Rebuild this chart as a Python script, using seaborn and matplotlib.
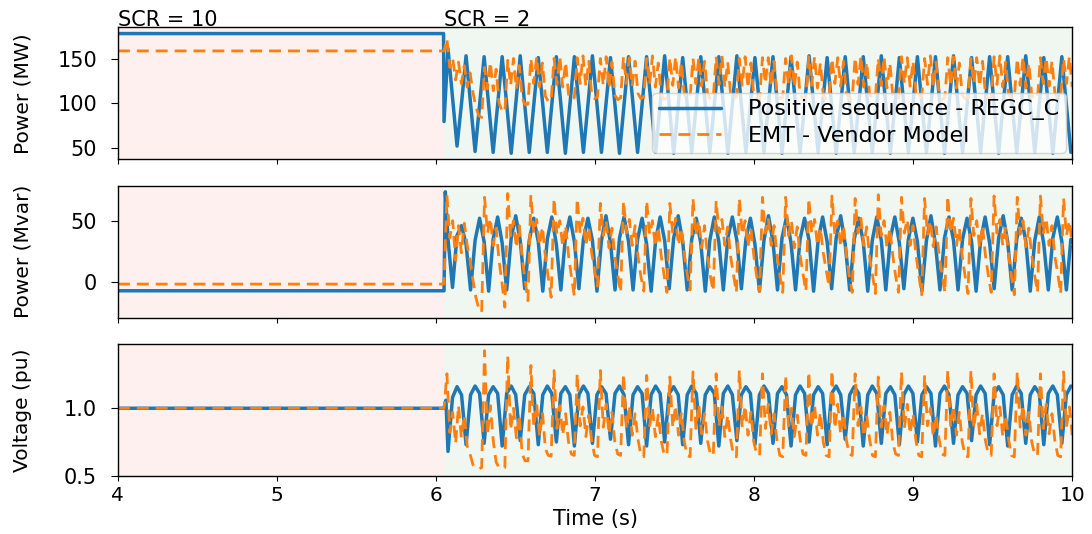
import numpy as np
import pandas as pd
import matplotlib
matplotlib.use("Agg")
import matplotlib.pyplot as plt
import matplotlib.transforms as mtransforms
import seaborn as sns

# ------------------------------------------------------------------ data
x_ticks = [4, 5, 6, 7, 8, 9, 10]
t_switch = 6.05
scr_labels = ["SCR = 10", "SCR = 2"]
series_names = ["Positive sequence - REGC_C", "EMT - Vendor Model"]
y_labels = ["Power (MW)", "Power (Mvar)", "Voltage (pu)"]
y_ticks = [[50, 100, 150], [0, 50], [0.5, 1.0]]
y_limits = [(37.2, 185.0), (-28.6, 78.3), (0.495, 1.475)]

# Positive sequence model: pre-switch segments
blue_pre_t_P = [4.0, 6.047, 6.05]
blue_pre_P = [177.9, 177.9, 79.5]
blue_pre_t_Q = [4.0, 6.05, 6.058]
blue_pre_Q = [-6.7, -6.7, 73.4]
blue_pre_t_V = [4.0, 6.05, 6.062]
blue_pre_V = [1.0, 1.0, 1.06]

# Positive sequence model after the switch, sampled every quarter cycle
blue_t0 = 6.075
blue_dt = 0.028375
# rows: [peak, falling, trough, rising]
blue_P_rows = [
    [161, 106, 52, 100], [153, 99, 46, 98], [152, 98, 45, 99], [152, 99, 44, 98],
    [153, 98, 45, 98], [151, 98, 45, 99], [152, 99, 44, 98], [152, 98, 45, 98],
    [153, 99, 45, 99], [151, 98, 44, 98], [152, 98, 45, 98], [152, 99, 45, 99],
    [153, 98, 44, 98], [151, 98, 45, 98], [152, 99, 45, 99], [152, 98, 44, 98],
    [153, 98, 45, 98], [151, 99, 45, 99], [152, 98, 44, 98], [152, 98, 45, 98],
    [153, 99, 45, 99], [151, 98, 44, 98], [152, 98, 45, 98], [152, 99, 45, 99],
    [153, 98, 44, 98], [151, 98, 45, 98], [152, 99, 45, 99], [152, 98, 44, 98],
    [153, 98, 45, 98], [151, 99, 45, 99], [152, 98, 44, 98], [152, 98, 45, 98],
    [153, 99, 45, 99], [151, 98, 44, 98], [152, 98, 45],
]
# rows: [shoulder, trough, rising, peak]
blue_Q_rows = [
    [35, -4, 38, 46], [31, -6, 34, 52], [33, -7, 35, 53], [32, -6, 36, 54],
    [34, -5, 34, 52], [33, -7, 35, 53], [31, -6, 36, 53], [33, -5, 35, 52],
    [34, -7, 34, 54], [32, -6, 36, 53], [33, -6, 35, 52], [31, -7, 34, 53],
    [34, -5, 36, 54], [33, -6, 35, 52], [32, -7, 34, 53], [33, -6, 36, 53],
    [34, -5, 35, 52], [31, -7, 34, 54], [33, -6, 36, 53], [32, -6, 35, 52],
    [34, -7, 34, 53], [33, -5, 36, 54], [31, -6, 35, 52], [33, -7, 34, 53],
    [34, -6, 36, 53], [32, -5, 35, 52], [33, -7, 34, 54], [31, -6, 36, 53],
    [34, -6, 35, 52], [33, -7, 34, 53], [32, -5, 36, 54], [33, -6, 35, 52],
    [34, -7, 34, 53], [31, -6, 36, 53], [33, -6, 35],
]
# rows: [trough, rising, peak, falling]
blue_V_rows = [
    [0.68, 1.08, 1.16, 1.10], [0.73, 1.10, 1.165, 1.11], [0.74, 1.10, 1.16, 1.11],
    [0.72, 1.11, 1.165, 1.10], [0.76, 1.10, 1.16, 1.11], [0.73, 1.10, 1.165, 1.11],
    [0.75, 1.11, 1.16, 1.10], [0.72, 1.10, 1.165, 1.11], [0.74, 1.10, 1.16, 1.11],
    [0.77, 1.11, 1.165, 1.10], [0.73, 1.10, 1.16, 1.11], [0.72, 1.10, 1.165, 1.11],
    [0.75, 1.11, 1.16, 1.10], [0.73, 1.10, 1.165, 1.11], [0.74, 1.10, 1.16, 1.11],
    [0.72, 1.11, 1.165, 1.10], [0.76, 1.10, 1.16, 1.11], [0.73, 1.10, 1.165, 1.11],
    [0.74, 1.11, 1.16, 1.10], [0.72, 1.10, 1.165, 1.11], [0.75, 1.10, 1.16, 1.11],
    [0.73, 1.11, 1.165, 1.10], [0.77, 1.10, 1.16, 1.11], [0.72, 1.10, 1.165, 1.11],
    [0.74, 1.11, 1.16, 1.10], [0.73, 1.10, 1.165, 1.11], [0.75, 1.10, 1.16, 1.11],
    [0.72, 1.11, 1.165, 1.10], [0.74, 1.10, 1.16, 1.11], [0.76, 1.10, 1.165, 1.11],
    [0.73, 1.11, 1.16, 1.10], [0.72, 1.10, 1.165, 1.11], [0.74, 1.10, 1.16, 1.11],
    [0.73, 1.11, 1.165, 1.10], [0.74, 1.10, 1.165],
]

# EMT vendor model
orange_pre_t = [4.0]
orange_pre_P = [158.5]
orange_pre_Q = [-1.3]
orange_pre_V = [1.0]
orange_t0 = 6.05
orange_dt = 0.0182
# first transient samples (6.05 s .. 6.29 s)
orange_P_start = [158.5, 172, 140, 150, 126, 146, 122, 142, 118, 134, 112, 96, 86, 84]
orange_Q_start = [-1.3, 70.8, 36, 50, 18, 46, 24, 48, 30, 18, 2, -12, -21, -24]
orange_V_start = [1.0, 1.256, 0.82, 0.97, 0.74, 1.02, 0.78, 0.95, 0.72, 0.66, 0.58, 0.56, 0.55, 0.56]
# one row per oscillation cycle, starting at each voltage spike
orange_P_rows = [
    [140, 116, 146, 114, 138, 100, 92, 90], [148, 120, 150, 116, 142, 106, 98, 99],
    [150, 122, 152, 118, 145, 108, 102, 103], [150, 121, 152, 118, 146, 110, 104, 106],
    [151, 122, 153, 119, 147, 110, 105, 107], [150, 120, 152, 117, 146, 109, 104, 106],
    [152, 122, 151, 119, 147, 111, 105, 107], [150, 121, 153, 118, 145, 110, 104, 106],
    [151, 120, 152, 117, 146, 109, 105, 107], [150, 122, 151, 119, 147, 111, 104, 106],
    [152, 121, 153, 118, 146, 110, 105, 107], [150, 120, 152, 117, 145, 109, 104, 106],
    [151, 122, 151, 119, 147, 111, 105, 107], [150, 121, 153, 118, 146, 110, 104, 106],
    [152, 120, 152, 117, 145, 109, 105, 107], [150, 122, 151, 119, 147, 111, 104, 106],
    [151, 121, 153, 118, 146, 110, 105, 107], [150, 120, 152, 117, 145, 109, 104, 106],
    [152, 122, 151, 119, 147, 111, 105, 107], [150, 121, 153, 118, 146, 110, 104, 106],
    [151, 120, 152, 117, 145, 109, 105, 107], [150, 122, 151, 119, 147, 111, 104, 106],
    [152, 121, 153, 118, 146, 110, 105, 107], [150, 120, 152, 117, 145, 109, 104, 106],
    [151, 122, 151, 119, 147, 111, 105, 107], [150, 122, 152, 118],
]
orange_Q_rows = [
    [69, 40, 52, 30, 44, 18, 0, -20], [72, 38, 50, 28, 46, 20, 2, -14.7],
    [70.8, 40, 51, 30, 45, 21, 4, -12], [68, 39, 50, 29, 46, 22, 5, -10.8],
    [68, 40, 52, 30, 45, 24, 10, -3], [64, 38, 50, 28, 44, 22, 6, -8],
    [66, 40, 51, 30, 46, 21, 5, -7], [66, 39, 50, 29, 45, 22, 6, -8],
    [64, 40, 52, 30, 44, 23, 7, -6], [68, 38, 50, 28, 46, 22, 5, -7],
    [66, 40, 51, 30, 45, 21, 6, -8], [68, 39, 50, 29, 44, 22, 5, -7],
    [69, 40, 52, 30, 46, 23, 6, -8], [69, 38, 50, 28, 45, 22, 7, -7],
    [68, 40, 51, 30, 44, 24, 10, -3], [70, 39, 50, 29, 46, 22, 5, -8],
    [68, 40, 52, 30, 45, 21, 6, -9], [71, 38, 50, 28, 44, 22, 5, -8],
    [69, 40, 51, 30, 46, 23, 6, -10], [68, 39, 50, 29, 45, 22, 7, -8],
    [70, 40, 52, 30, 44, 21, 5, -9], [68, 38, 50, 28, 46, 22, 6, -8],
    [70, 40, 51, 30, 45, 23, 5, -10], [69, 39, 50, 29, 44, 22, 6, -8],
    [70, 40, 52, 30, 46, 21, 7, -9], [68, 38, 50, 30],
]
orange_V_rows = [
    [1.427, 0.80, 1.02, 0.76, 0.60, 0.56, 0.555, 0.56],
    [1.39, 0.84, 1.00, 0.78, 0.95, 0.66, 0.61, 0.61],
    [1.317, 0.86, 1.03, 0.79, 0.97, 0.70, 0.65, 0.645],
    [1.28, 0.85, 1.02, 0.80, 0.96, 0.75, 0.66, 0.65],
    [1.256, 0.87, 1.01, 0.79, 0.95, 0.76, 0.65, 0.64],
    [1.28, 0.86, 1.03, 0.81, 0.97, 0.75, 0.66, 0.65],
    [1.256, 0.85, 1.02, 0.80, 0.96, 0.77, 0.65, 0.64],
    [1.244, 0.87, 1.00, 0.79, 0.95, 0.76, 0.66, 0.65],
    [1.232, 0.86, 1.02, 0.80, 0.97, 0.75, 0.65, 0.64],
    [1.27, 0.85, 1.03, 0.81, 0.96, 0.76, 0.66, 0.65],
    [1.256, 0.87, 1.01, 0.79, 0.95, 0.77, 0.65, 0.64],
    [1.28, 0.86, 1.02, 0.80, 0.97, 0.75, 0.66, 0.65],
    [1.256, 0.85, 1.03, 0.81, 0.96, 0.76, 0.65, 0.64],
    [1.244, 0.87, 1.00, 0.79, 0.95, 0.77, 0.66, 0.65],
    [1.27, 0.86, 1.02, 0.80, 0.97, 0.75, 0.65, 0.64],
    [1.28, 0.85, 1.03, 0.81, 0.96, 0.76, 0.66, 0.65],
    [1.256, 0.87, 1.01, 0.79, 0.95, 0.77, 0.65, 0.64],
    [1.232, 0.86, 1.02, 0.80, 0.97, 0.75, 0.66, 0.65],
    [1.27, 0.85, 1.03, 0.81, 0.96, 0.76, 0.65, 0.64],
    [1.244, 0.87, 1.00, 0.79, 0.95, 0.77, 0.66, 0.65],
    [1.28, 0.86, 1.02, 0.80, 0.97, 0.75, 0.65, 0.64],
    [1.28, 0.85, 1.03, 0.81, 0.96, 0.76, 0.66, 0.65],
    [1.256, 0.87, 1.01, 0.79, 0.95, 0.77, 0.65, 0.64],
    [1.27, 0.86, 1.02, 0.80, 0.97, 0.75, 0.66, 0.65],
    [1.256, 0.85, 1.03, 0.81, 0.96, 0.76, 0.65, 0.64],
    [1.27, 0.86, 1.01, 0.80],
]

# ------------------------------------------------------------------ assemble
def flat(rows):
    return [v for r in rows for v in r]


def build(pre_t, pre_v, t0, dt, start, rows):
    vals = list(start) + flat(rows)
    t = t0 + dt * np.arange(len(vals))
    return pd.DataFrame({"t": np.concatenate([pre_t, t]),
                         "v": np.concatenate([pre_v, vals])})


blue_frames = [
    build(blue_pre_t_P, blue_pre_P, blue_t0, blue_dt, [], blue_P_rows),
    build(blue_pre_t_Q, blue_pre_Q, blue_t0, blue_dt, [], blue_Q_rows),
    build(blue_pre_t_V, blue_pre_V, blue_t0, blue_dt, [], blue_V_rows),
]
orange_frames = [
    build(orange_pre_t, orange_pre_P, orange_t0, orange_dt, orange_P_start, orange_P_rows),
    build(orange_pre_t, orange_pre_Q, orange_t0, orange_dt, orange_Q_start, orange_Q_rows),
    build(orange_pre_t, orange_pre_V, orange_t0, orange_dt, orange_V_start, orange_V_rows),
]

# ------------------------------------------------------------------ plot
sns.set_style("ticks", {"axes.edgecolor": "black", "xtick.color": "black",
                        "ytick.color": "black", "text.color": "black",
                        "axes.labelcolor": "black"})
plt.rcParams["font.family"] = ["DejaVu Sans"]
plt.rcParams["axes.linewidth"] = 1.0

BLUE = "#1f77b4"
ORANGE = "#ff7f0e"

fig, axes = plt.subplots(3, 1, figsize=(10.92, 5.34), dpi=100, sharex=True)
fig.subplots_adjust(left=0.108, right=0.982, top=0.949, bottom=0.108, hspace=0.2)

for i, ax in enumerate(axes):
    ax.axvspan(x_ticks[0], t_switch, color="red", alpha=0.06, lw=0, zorder=0)
    ax.axvspan(t_switch, x_ticks[-1], color="green", alpha=0.06, lw=0, zorder=0)
    sns.lineplot(data=blue_frames[i], x="t", y="v", ax=ax, color=BLUE, lw=2.5,
                 estimator=None, sort=False,
                 label=series_names[0] if i == 0 else None, legend=False)
    sns.lineplot(data=orange_frames[i], x="t", y="v", ax=ax, color=ORANGE, lw=2.0,
                 linestyle=(0, (4.3, 2.5)), estimator=None, sort=False,
                 label=series_names[1] if i == 0 else None, legend=False)
    ax.set_xlim(x_ticks[0], x_ticks[-1])
    ax.set_ylim(*y_limits[i])
    ax.set_yticks(y_ticks[i])
    ax.set_xticks(x_ticks)
    ax.set_ylabel(y_labels[i], fontsize=14.5)
    ax.yaxis.set_label_coords(-0.09, 0.5)
    ax.set_xlabel("")
    ax.tick_params(axis="y", labelsize=15, length=5, pad=10)
    ax.tick_params(axis="x", labelsize=14.5, length=3.5)

axes[-1].set_xlabel("Time (s)", fontsize=15)
axes[-1].xaxis.set_label_coords(0.5, -0.245)

trans = mtransforms.blended_transform_factory(axes[0].transData, axes[0].transAxes)
axes[0].text(x_ticks[0], 1.01, scr_labels[0], transform=trans, fontsize=15,
             ha="left", va="baseline")
axes[0].text(t_switch, 1.01, scr_labels[1], transform=trans, fontsize=15,
             ha="left", va="baseline")

axes[0].legend(loc="lower right", fontsize=16, handlelength=2.8, handletextpad=1.2,
               labelspacing=0.25, borderpad=0.3, borderaxespad=0.3, framealpha=0.8)

fig.savefig("out.png", dpi=100)
